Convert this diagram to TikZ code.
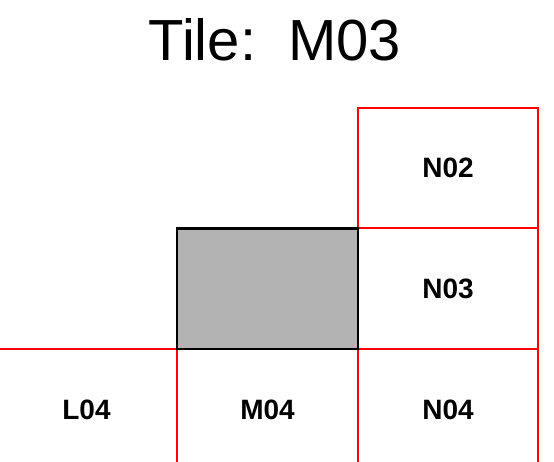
\documentclass[tikz,border=0pt]{standalone}
\usepackage{fontspec}
\setmainfont{Liberation Sans}
\definecolor{tilegray}{HTML}{B3B3B3}
\begin{document}
\begin{tikzpicture}[x=1pt,y=-1pt,
  cell/.style={draw=red, line width=2.4pt, inner sep=0pt, outer sep=0pt,
    minimum height=121pt, font=\fontsize{28}{30}\selectfont\bfseries},
  current/.style={draw=black, fill=tilegray, line width=2.6pt, inner sep=0pt, outer sep=0pt,
    minimum width=181pt, minimum height=120.5pt},
  titletext/.style={font=\fontsize{58}{60}\selectfont, inner sep=0pt}]
\useasboundingbox (0,0) rectangle (554,461);
\begin{scope}
\clip (0,0) rectangle (554,461);
\node[cell, minimum width=180pt, minimum height=120pt] (N02) at (448,168) {N02};
\node[cell, minimum width=180pt] (N03) at (448,288.5) {N03};
\node[cell, minimum width=181pt] (L04) at (86.5,409.5) {L04};
\node[cell, minimum width=181pt] (M04) at (267.5,409.5) {M04};
\node[cell, minimum width=180pt] (N04) at (448,409.5) {N04};
\node[current] (M03) at (267.5,288.75) {};
\end{scope}
\node[titletext] (title) at (275,40) {Tile:\ \ M03};
\end{tikzpicture}
\end{document}
